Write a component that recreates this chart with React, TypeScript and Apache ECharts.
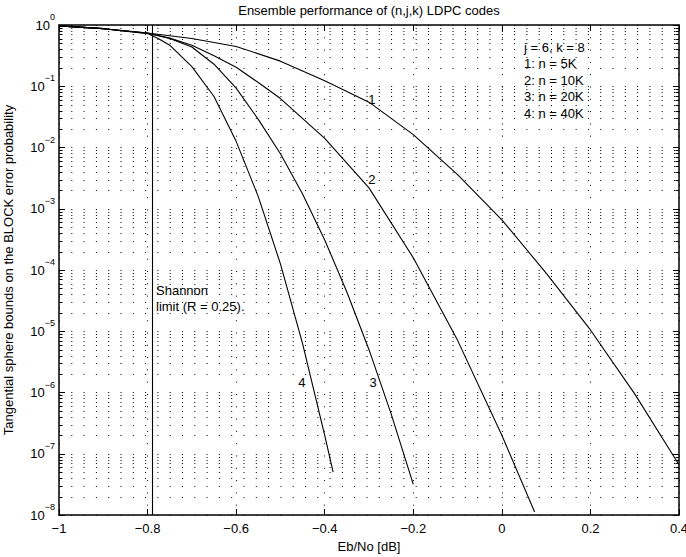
import React, { useEffect, useRef } from 'react';
import * as echarts from 'echarts';

const FONT = "'Liberation Sans', Arial, Helvetica, sans-serif";

const TITLE = 'Ensemble performance of (n,j,k) LDPC codes';
const X_NAME = 'Eb/No [dB]';
const Y_NAME = 'Tangential sphere bounds on the BLOCK error probability';

const X_MIN = -1;
const X_MAX = 0.4;
const X_STEP = 0.2;
const Y_MIN = 1e-8;
const Y_MAX = 1;
const Y_DECADES = [-8, -7, -6, -5, -4, -3, -2, -1];
const Y_MANTISSAS = [2, 3, 4, 5, 6, 7, 8, 9];
const SHANNON_LIMIT = -0.794;

// 1: n = 5K
const N5K_X = [-1, -0.9, -0.8, -0.7, -0.6, -0.5, -0.4, -0.3, -0.2, -0.1, 0, 0.1, 0.2, 0.3, 0.4];
const N5K_P = [0.966, 0.871, 0.741, 0.603, 0.447, 0.257, 0.123, 5.5e-2, 1.62e-2, 3.6e-3, 6.6e-4, 8.9e-5, 1.05e-5, 9.5e-7, 6.6e-8];
// 2: n = 10K
const N10K_X = [-1, -0.9, -0.8, -0.75, -0.7, -0.65, -0.6, -0.55, -0.5, -0.4, -0.3, -0.2, -0.1, 0, 0.074];
const N10K_P = [0.966, 0.871, 0.741, 0.61, 0.468, 0.316, 0.204, 0.115, 6.3e-2, 1.41e-2, 2.19e-3, 1.58e-4, 7.1e-6, 2.0e-7, 1.12e-8];
// 3: n = 20K
const N20K_X = [-1, -0.9, -0.8, -0.75, -0.7, -0.65, -0.6, -0.55, -0.5, -0.45, -0.4, -0.35, -0.3, -0.25, -0.2];
const N20K_P = [0.966, 0.871, 0.733, 0.603, 0.437, 0.229, 9.3e-2, 2.88e-2, 7.9e-3, 1.74e-3, 3.09e-4, 4.37e-5, 5.0e-6, 4.47e-7, 3.16e-8];
// 4: n = 40K
const N40K_X = [-1, -0.9, -0.8, -0.775, -0.75, -0.7, -0.65, -0.6, -0.55, -0.5, -0.45, -0.4, -0.381];
const N40K_P = [0.966, 0.871, 0.724, 0.596, 0.468, 0.209, 6.8e-2, 1.26e-2, 1.58e-3, 1.26e-4, 6.3e-6, 2.0e-7, 5.0e-8];

const CURVE_LABELS = ['1', '2', '3', '4'];
const CURVE_LABEL_X = [-0.2935, -0.2935, -0.291, -0.4515];
const CURVE_LABEL_P = [5.97e-2, 2.95e-3, 1.43e-6, 1.43e-6];

const LEGEND_LINES = ['j = 6, k = 8', '1: n = 5K', '2: n = 10K', '3: n = 20K', '4: n = 40K'];
const SHANNON_TEXT = ['Shannon', 'limit (R = 0.25).'];

const minus = (s: string) => s.replace('-', '\u2212');

export default function App() {
  const ref = useRef<HTMLDivElement>(null);

  useEffect(() => {
    if (!ref.current) return;
    const chart = echarts.init(ref.current, null, { renderer: 'svg' });

    const yMinor: number[] = [];
    Y_DECADES.forEach((e) => {
      Y_MANTISSAS.forEach((m) => {
        yMinor.push(Number((m * Math.pow(10, e)).toPrecision(3)));
      });
    });

    const dotted = { color: '#000', width: 1, type: [1, 11.3] as number[] };

    const curve = (xs: number[], ps: number[], extra: any = {}) => ({
      type: 'line',
      data: xs.map((x, i) => [x, ps[i]]),
      symbol: 'none',
      showSymbol: false,
      smooth: false,
      lineStyle: { color: '#000', width: 1.1 },
      itemStyle: { color: '#000' },
      z: 5,
      ...extra,
    });

    const baseText = { fontFamily: FONT, fontSize: 13, fill: '#000' };

    const graphics: any[] = [
      {
        type: 'text',
        x: 369,
        y: 10,
        style: { ...baseText, text: TITLE, align: 'center', verticalAlign: 'middle', textAlign: 'center', textVerticalAlign: 'middle' },
      },
    ];
    LEGEND_LINES.forEach((t, i) => {
      graphics.push({
        type: 'text',
        x: 524,
        y: 47 + i * 16.5,
        style: { ...baseText, text: t, align: 'left', verticalAlign: 'middle', textAlign: 'left', textVerticalAlign: 'middle' },
      });
    });
    SHANNON_TEXT.forEach((t, i) => {
      graphics.push({
        type: 'text',
        x: 156,
        y: 290 + i * 16.5,
        style: { ...baseText, text: t, align: 'left', verticalAlign: 'middle', textAlign: 'left', textVerticalAlign: 'middle' },
      });
    });

    const option: any = {
      animation: false,
      backgroundColor: '#fff',
      textStyle: { fontFamily: FONT },
      grid: { left: 59, right: 7, top: 25, bottom: 42, containLabel: false, outerBoundsMode: 'none' },
      xAxis: [
        {
          type: 'value',
          min: X_MIN,
          max: X_MAX,
          interval: X_STEP,
          position: 'bottom',
          name: X_NAME,
          nameLocation: 'middle',
          nameGap: 23,
          nameTextStyle: { fontFamily: FONT, fontSize: 13, color: '#000' },
          axisLine: { show: true, onZero: false, lineStyle: { color: '#000', width: 1.5 } },
          axisTick: { show: true, inside: true, length: 6, lineStyle: { color: '#000', width: 1 } },
          axisLabel: {
            color: '#000',
            fontFamily: FONT,
            fontSize: 13,
            margin: 7,
            formatter: (v: number) => minus(String(Number(v.toFixed(1)))),
          },
          splitLine: { show: true, lineStyle: dotted },
        },
        {
          type: 'value',
          min: X_MIN,
          max: X_MAX,
          interval: X_STEP,
          position: 'top',
          axisLine: { show: true, onZero: false, lineStyle: { color: '#000', width: 1.5 } },
          axisTick: { show: true, inside: true, length: 6, lineStyle: { color: '#000', width: 1 } },
          axisLabel: { show: false },
          splitLine: { show: false },
        },
      ],
      yAxis: [
        {
          type: 'log',
          logBase: 10,
          min: Y_MIN,
          max: Y_MAX,
          splitNumber: 8,
          position: 'left',
          name: Y_NAME,
          nameLocation: 'middle',
          nameGap: 44,
          nameRotate: 90,
          nameTextStyle: { fontFamily: FONT, fontSize: 13, color: '#000' },
          axisLine: { show: true, onZero: false, lineStyle: { color: '#000', width: 1.5 } },
          axisTick: { show: true, inside: true, length: 6, lineStyle: { color: '#000', width: 1 } },
          axisLabel: {
            color: '#000',
            margin: 4,
            formatter: (v: number) => {
              const e = Math.round(Math.log10(v));
              return '{b|10}{s|' + minus(String(e)) + '}';
            },
            rich: {
              b: { fontFamily: FONT, fontSize: 13, color: '#000' },
              s: { fontFamily: FONT, fontSize: 9, color: '#000', padding: [0, 0, 16, 0] },
            },
          },
          splitLine: { show: true, lineStyle: dotted },
        },
        {
          type: 'log',
          logBase: 10,
          min: Y_MIN,
          max: Y_MAX,
          splitNumber: 8,
          position: 'right',
          axisLine: { show: true, onZero: false, lineStyle: { color: '#000', width: 1.5 } },
          axisTick: { show: true, inside: true, length: 6, lineStyle: { color: '#000', width: 1 } },
          axisLabel: { show: false },
          splitLine: { show: false },
        },
      ],
      graphic: graphics,
      series: [
        {
          type: 'custom',
          silent: true,
          z: 1,
          clip: false,
          data: yMinor.map((v) => [X_MIN, v]),
          encode: { x: 0, y: 1 },
          renderItem: (params: any, api: any) => {
            const cs = params.coordSys;
            const pt = api.coord([api.value(0), api.value(1)]);
            const y = Math.round(pt[1]) + 0.5;
            return {
              type: 'group',
              children: [
                { type: 'line', shape: { x1: cs.x, y1: y, x2: cs.x + cs.width, y2: y }, style: { stroke: '#000', lineWidth: 1, lineDash: [1, 11.3] } },
                { type: 'line', shape: { x1: cs.x, y1: y, x2: cs.x + 3.5, y2: y }, style: { stroke: '#000', lineWidth: 1 } },
                { type: 'line', shape: { x1: cs.x + cs.width - 3.5, y1: y, x2: cs.x + cs.width, y2: y }, style: { stroke: '#000', lineWidth: 1 } },
              ],
            };
          },
        },
        curve(N5K_X, N5K_P, {
          markLine: {
            silent: true,
            symbol: ['none', 'none'],
            label: { show: false },
            lineStyle: { color: '#000', width: 1.1, type: 'solid' },
            data: [{ xAxis: SHANNON_LIMIT }],
          },
        }),
        curve(N10K_X, N10K_P),
        curve(N20K_X, N20K_P),
        curve(N40K_X, N40K_P),
        {
          type: 'custom',
          silent: true,
          z: 6,
          clip: false,
          data: CURVE_LABELS.map((n, i) => [CURVE_LABEL_X[i], CURVE_LABEL_P[i]]),
          encode: { x: 0, y: 1 },
          renderItem: (params: any, api: any) => {
            const pt = api.coord([api.value(0), api.value(1)]);
            return {
              type: 'text',
              x: pt[0],
              y: pt[1],
              style: {
                text: CURVE_LABELS[params.dataIndex],
                fill: '#000',
                fontFamily: FONT,
                fontSize: 13,
                align: 'center',
                verticalAlign: 'middle',
                textAlign: 'center',
                textVerticalAlign: 'middle',
              },
            };
          },
        },
      ],
    };

    chart.setOption(option);
    return () => {
      chart.dispose();
    };
  }, []);

  return (
    <div
      ref={ref}
      style={{ position: 'fixed', left: 0, top: 0, width: 686, height: 557, background: '#fff' }}
    />
  );
}
